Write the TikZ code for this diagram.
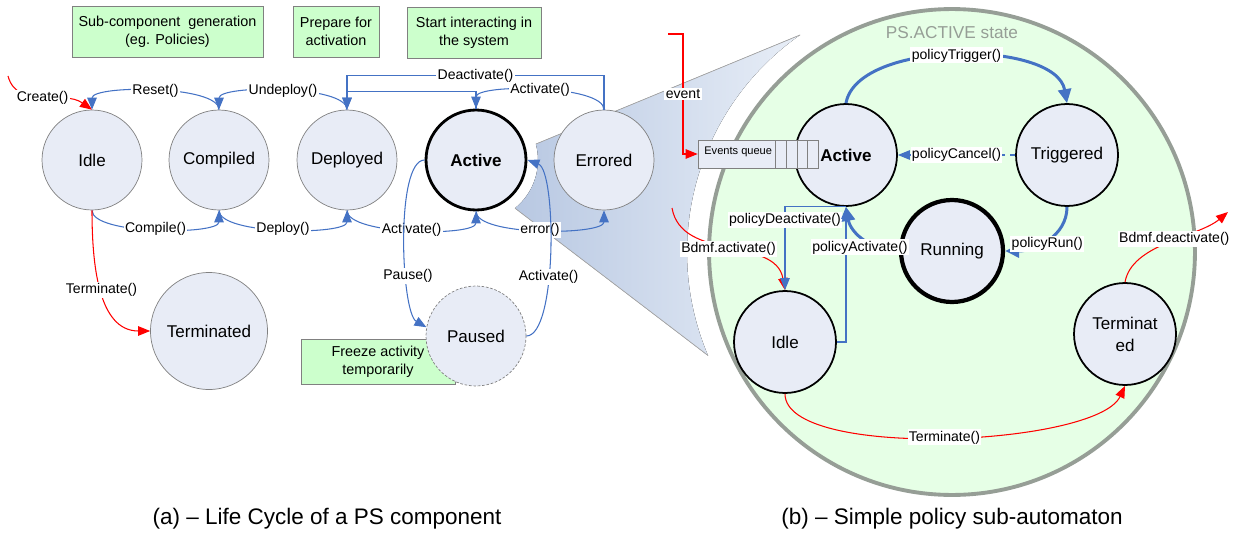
\documentclass[tikz,border=0pt]{standalone}
\usepackage{fontspec}
\setmainfont{Liberation Sans}
\usetikzlibrary{arrows.meta}
\definecolor{statefill}{RGB}{232,236,246}
\definecolor{notegreen}{RGB}{204,255,204}
\definecolor{lineblue}{RGB}{68,114,196}
\definecolor{ringgray}{RGB}{150,158,150}
\definecolor{ringfill}{RGB}{230,255,230}
\definecolor{fandark}{RGB}{184,200,226}
\definecolor{fanlight}{RGB}{232,238,247}
\tikzset{
  lstate/.style={circle,draw=gray,fill=statefill,minimum size=2cm,inner sep=0pt,font=\fontsize{9.7}{11.5}\selectfont},
  rstate/.style={circle,draw=black,line width=1pt,fill=statefill,minimum size=2.04cm,inner sep=0pt,align=center,font=\fontsize{9.7}{12.5}\selectfont},
  note/.style={draw=gray,fill=notegreen,align=center,inner sep=0pt,font=\fontsize{8.2}{10}\selectfont},
  lbl/.style={fill=white,inner sep=0.8pt,font=\fontsize{8}{9.5}\selectfont},
  bluearr/.style={draw=lineblue,line width=0.6pt,-{Triangle[length=0.24cm,width=0.19cm]}},
  redarr/.style={draw=red,line width=0.6pt,-{Triangle[length=0.24cm,width=0.19cm]}},
  thickarr/.style={draw=lineblue,line width=1.7pt,-{Triangle[length=0.28cm,width=0.26cm]}},
}
\begin{document}
\begin{tikzpicture}[x=0.02cm,y=0.02cm]
  \useasboundingbox (0,0) rectangle (1246,-537);
  \fill[left color=fandark,right color=fanlight] (536,-144) -- (800,-35)
    arc[start angle=125,end angle=203,radius=265] -- (515,-208.2)
    arc[start angle=-51,end angle=15,radius=62] -- cycle;
  \draw[gray!70,line width=0.4pt] (536,-144) -- (800,-35);
  \draw[gray!70,line width=0.4pt] (515,-208.2) -- (708,-355.5);

  \node[note,minimum width=3.82cm,minimum height=1.02cm] (subnote) at (167.5,-31.5) {Sub-component~ generation\\(eg. Policies)};
  \node[note,minimum width=1.72cm,minimum height=1.02cm] (prepnote) at (336,-31.5) {Prepare for\\activation};
  \node[note,minimum width=2.68cm,minimum height=1.02cm] (startnote) at (474,-32.5) {Start interacting in\\the system};
  \node[lstate] (idle) at (92,-160) {Idle};
  \node[lstate] (compiled) at (219,-160) {Compiled};
  \node[lstate] (deployed) at (347,-160) {Deployed};
  \node[lstate,draw=black,line width=1.6pt] (active) at (476,-160) {\textbf{Active}};
  \node[lstate] (errored) at (604,-160) {Errored};
  \node[lstate,minimum size=2.34cm] (terminated) at (209,-331) {Terminated};
  \node[note,minimum width=3.08cm,minimum height=0.9cm] (freezenote) at (378,-361.5) {Freeze activity\\temporarily};
  \node[lstate,dash pattern=on 1.5pt off 1pt] (paused) at (476,-336) {Paused};
  \coordinate (createin) at (8,-76);

  \node[circle,draw=ringgray,line width=2.2pt,fill=ringfill,minimum size=9.72cm] (psring) at (952,-252) {};
  \node[text=ringgray,font=\fontsize{9.8}{12}\selectfont] (pslabel) at (952,-33) {PS.ACTIVE state};
  \node[rstate] (activeb) at (846,-155) {\textbf{Active}};
  \node[rstate] (triggered) at (1067,-155) {Triggered};
  \node[rstate,line width=2.4pt] (running) at (952,-251) {Running};
  \node[rstate] (idleb) at (785,-342) {Idle};
  \node[rstate] (termb) at (1125,-334) {Terminat\\ed};
  \node[draw=gray,fill=statefill,minimum width=2.4cm,minimum height=0.56cm,inner sep=0pt] (queue) at (758,-154) {};
  \node[anchor=west,inner sep=0pt,font=\fontsize{6.3}{7}\selectfont] (queuetext) at (704,-152) {Events queue};
  \foreach \x in {775,786,797,807}
    \draw[gray] (\x,-140) -- (\x,-168);
  \coordinate (eventin) at (668,-34);
  \coordinate (bdmfin) at (672,-208);
  \coordinate (bdmfout) at (1228,-212);

  \node[font=\fontsize{12.8}{15}\selectfont] (captiona) at (327,-519) {(a) – Life Cycle of a PS component};
  \node[font=\fontsize{12.8}{15}\selectfont] (captionb) at (952,-519) {(b) – Simple policy sub-automaton};

  \begin{scope}
    \draw[redarr] (createin) to[out=-75,in=145] node[lbl]{Create()} (idle.north);
    \draw[bluearr] (compiled.north) to[out=90,in=90,looseness=0.5] node[lbl]{Reset()} (idle.north);
    \draw[bluearr] (deployed.north) to[out=90,in=90,looseness=0.5] node[lbl]{Undeploy()} (compiled.north);
    \draw[bluearr] (errored.north) to[out=90,in=90,looseness=0.5] node[lbl]{Activate()} (active.north);
    \draw[bluearr] (errored.north) -- ++(0,34) -| node[lbl,pos=0.25]{Deactivate()} (deployed.north);
    \draw[bluearr] (active.north) -- ++(0,17) -| (deployed.north);
    \draw[bluearr] (idle.south) to[out=-90,in=-90,looseness=0.5] node[lbl]{Compile()} (compiled.south);
    \draw[bluearr] (compiled.south) to[out=-90,in=-90,looseness=0.5] node[lbl]{Deploy()} (deployed.south);
    \draw[bluearr] (deployed.south) to[out=-90,in=-90,looseness=0.5] node[lbl]{Activate()} (active.south);
    \draw[bluearr] (active.south) to[out=-90,in=-90,looseness=0.5] node[lbl]{error()} (errored.south);
    \draw[redarr] (idle.south) to[out=-90,in=180] node[lbl]{Terminate()} (terminated.west);
    \draw[bluearr] (active.west) to[out=180,in=150,looseness=0.45] node[lbl,pos=0.66]{Pause()} (paused.170);
    \draw[bluearr] (paused.east) to[out=0,in=-20,looseness=0.45] node[lbl,pos=0.4]{Activate()} (active.east);
  \end{scope}
  \begin{scope}
    \draw[redarr] (eventin) -- ++(15,0) |- node[lbl,pos=0.25]{event} (queue.west);
    \draw[redarr] (bdmfin) to[out=-80,in=100] node[lbl]{Bdmf.activate()} (idleb.north);
    \draw[bluearr] (activeb.south) -| node[lbl,pos=0.58]{policyDeactivate()} (idleb.north);
    \draw[thickarr] (running.west) to[out=180,in=-80] (activeb.south);
    \draw[bluearr] (idleb.east) -| node[lbl,pos=0.85,xshift=0.28cm]{policyActivate()} (activeb.south);
    \draw[thickarr] (activeb.north) to[out=80,in=100,looseness=0.75] node[lbl]{policyTrigger()} (triggered.north);
    \draw[bluearr,dashed] (triggered.west) -- node[lbl]{policyCancel()} (activeb.east);
    \draw[thickarr] (triggered.south) to[out=-90,in=0] node[lbl,pos=0.6,xshift=0.15cm]{policyRun()} (running.east);
    \draw[redarr] (idleb.south) to[out=-90,in=-115,looseness=0.5] node[lbl]{Terminate()} (termb.south);
    \draw[redarr] (termb.north) to[out=80,in=-140,looseness=0.8] node[lbl,pos=0.55]{Bdmf.deactivate()} (bdmfout);
  \end{scope}
\end{tikzpicture}
\end{document}
